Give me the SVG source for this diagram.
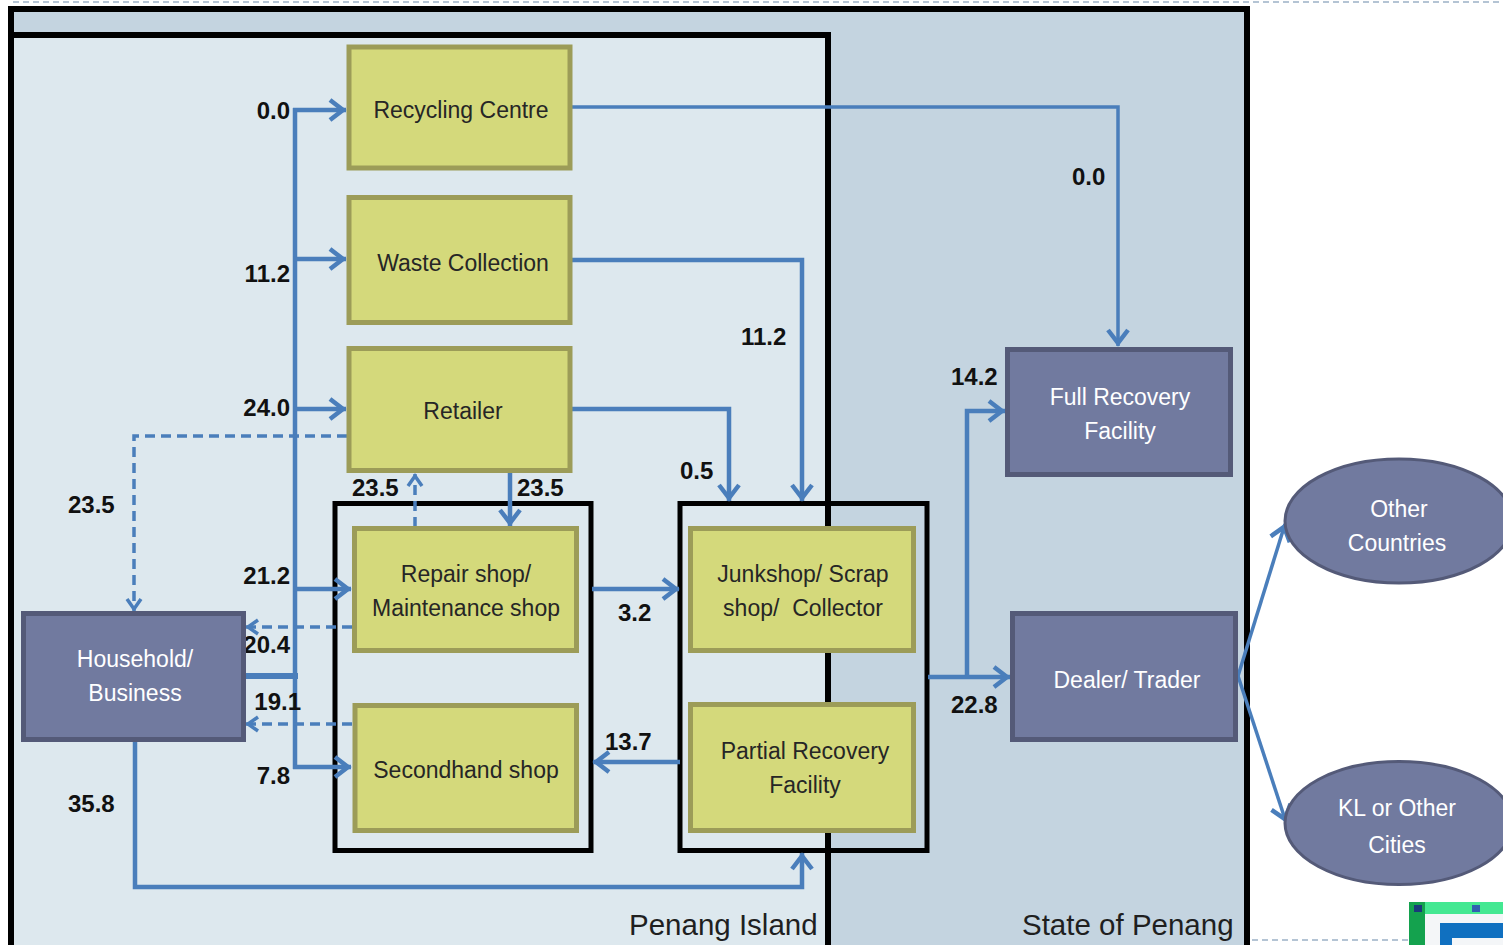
<svg xmlns="http://www.w3.org/2000/svg" width="1503" height="945" viewBox="0 0 1503 945">
<defs>
<style>
.yb{fill:#d4d97b;stroke:#9c9c58;stroke-width:5}
.pb{fill:#717a9f;stroke:#545a78;stroke-width:5}
.pe{fill:#717a9f;stroke:#545a78;stroke-width:3}
.yt{font-family:"Liberation Sans",Arial,sans-serif;font-size:23px;fill:#262626;text-anchor:middle}
.wt{font-family:"Liberation Sans",Arial,sans-serif;font-size:23px;fill:#ffffff;text-anchor:middle}
.num{font-family:"Liberation Sans",Arial,sans-serif;font-size:24px;font-weight:bold;fill:#111111}
.ne{text-anchor:end}
.cn{fill:none;stroke:#4a7ebb;stroke-width:4.5}
.c{fill:none;stroke:#4a7ebb;stroke-width:4.5;marker-end:url(#ah)}
.ct{fill:none;stroke:#4a7ebb;stroke-width:3.5;marker-end:url(#ah)}
.d{fill:none;stroke:#4a7ebb;stroke-width:3.5;stroke-dasharray:10 6;marker-end:url(#ahd)}
.grp{fill:none;stroke:#000000;stroke-width:5}
.reg{font-family:"Liberation Sans",Arial,sans-serif;font-size:29.5px;fill:#1f1f1f}
.pg{fill:none;stroke:#b4c4d4;stroke-width:2;stroke-dasharray:6 4}
</style>
<marker id="ah" markerUnits="userSpaceOnUse" overflow="visible" orient="auto" refX="0" refY="0" markerWidth="1" markerHeight="1">
<path d="M-16,-10 L-3,0 L-16,10" fill="none" stroke="#4a7ebb" stroke-width="4.5" stroke-dasharray="none"/>
</marker>
<marker id="ahd" markerUnits="userSpaceOnUse" overflow="visible" orient="auto" refX="0" refY="0" markerWidth="1" markerHeight="1">
<path d="M-12,-7 L-2,0 L-12,7" fill="none" stroke="#4a7ebb" stroke-width="3.5" stroke-dasharray="none"/>
</marker>
</defs>

<rect x="0" y="0" width="1503" height="945" fill="#ffffff"/>
<line class="pg" x1="13" y1="2" x2="1503" y2="2"/>
<line class="pg" x1="1252" y1="940" x2="1410" y2="940"/>

<g id="state-of-penang">
<rect x="11" y="9" width="1236" height="960" fill="#c4d4e0" stroke="#000000" stroke-width="6"/>
<text class="reg" x="1022" y="935">State of Penang</text>
</g>
<g id="penang-island">
<rect x="11" y="35" width="817" height="930" fill="#dde8ee" stroke="#000000" stroke-width="6"/>
<text class="reg" x="629" y="935">Penang Island</text>
</g>
<g id="group-shops">
<rect class="grp" x="335" y="503.5" width="256" height="347"/>
</g>
<g id="group-collectors">
<rect class="grp" x="680" y="503.5" width="247" height="347"/>
</g>

<g id="connectors">
<path class="cn" d="M244,676 H298" style="stroke-width:6"/>
<path class="cn" d="M295,108 V769"/>
<path class="c" d="M293,110 H346"/>
<path class="c" d="M293,259 H346"/>
<path class="c" d="M293,409 H346"/>
<path class="c" d="M293,589 H351"/>
<path class="c" d="M293,767 H351"/>
<path class="ct" d="M572,107 H1118 V346"/>
<path class="c" d="M572,260 H802 V501"/>
<path class="c" d="M572,409 H729 V501"/>
<path class="c" d="M510,472 V526"/>
<path class="d" d="M415,527 V474"/>
<path class="d" d="M347,436 H134 V611"/>
<path class="d" d="M352,627 H246"/>
<path class="d" d="M352,724 H246"/>
<path class="c" d="M135,741 V887 H802 V853"/>
<path class="c" d="M592,589 H679"/>
<path class="c" d="M680,762 H593"/>
<path class="c" d="M928,677 H1010"/>
<path class="c" d="M967,677 V411 H1005"/>
<path class="ct" d="M1238,676 L1285,524"/>
<path class="ct" d="M1238,676 L1286,822"/>
</g>

<g id="labels">
<text class="num ne" x="290" y="119">0.0</text>
<text class="num ne" x="290" y="282">11.2</text>
<text class="num ne" x="290" y="416">24.0</text>
<text class="num" x="68" y="513">23.5</text>
<text class="num" x="352" y="496">23.5</text>
<text class="num" x="517" y="496">23.5</text>
<text class="num ne" x="290" y="584">21.2</text>
<text class="num ne" x="290" y="653">20.4</text>
<text class="num ne" x="301" y="710">19.1</text>
<text class="num ne" x="290" y="784">7.8</text>
<text class="num" x="68" y="812">35.8</text>
<text class="num" x="1072" y="185">0.0</text>
<text class="num" x="741" y="345">11.2</text>
<text class="num" x="680" y="479">0.5</text>
<text class="num" x="618" y="621">3.2</text>
<text class="num" x="605" y="750">13.7</text>
<text class="num" x="951" y="385">14.2</text>
<text class="num" x="951" y="713">22.8</text>
</g>

<g id="recycling-centre">
<rect class="yb" x="349" y="47" width="221" height="121"/>
<text class="yt" x="461" y="118">Recycling Centre</text>
</g>
<g id="waste-collection">
<rect class="yb" x="349" y="197.5" width="221" height="125"/>
<text class="yt" x="463" y="271">Waste Collection</text>
</g>
<g id="retailer">
<rect class="yb" x="349" y="348.5" width="221" height="122"/>
<text class="yt" x="463" y="419">Retailer</text>
</g>
<g id="repair-shop">
<rect class="yb" x="354.5" y="528.5" width="222" height="122"/>
<text class="yt" x="466" y="582">Repair shop/</text>
<text class="yt" x="466" y="616">Maintenance shop</text>
</g>
<g id="secondhand-shop">
<rect class="yb" x="355" y="705.5" width="221.5" height="125"/>
<text class="yt" x="466" y="778">Secondhand shop</text>
</g>
<g id="junkshop">
<rect class="yb" x="690.5" y="528.5" width="223" height="122"/>
<text class="yt" x="803" y="582">Junkshop/ Scrap</text>
<text class="yt" x="803" y="616">shop/&#160; Collector</text>
</g>
<g id="partial-recovery">
<rect class="yb" x="690.5" y="704.5" width="223" height="126"/>
<text class="yt" x="805" y="759">Partial Recovery</text>
<text class="yt" x="805" y="793">Facility</text>
</g>
<g id="household">
<rect class="pb" x="23.5" y="613.5" width="220" height="126"/>
<text class="wt" x="135" y="667">Household/</text>
<text class="wt" x="135" y="701">Business</text>
</g>
<g id="full-recovery">
<rect class="pb" x="1007.5" y="349.5" width="223" height="125"/>
<text class="wt" x="1120" y="405">Full Recovery</text>
<text class="wt" x="1120" y="439">Facility</text>
</g>
<g id="dealer-trader">
<rect class="pb" x="1012.5" y="613.5" width="223" height="126"/>
<text class="wt" x="1127" y="688">Dealer/ Trader</text>
</g>
<g id="other-countries">
<ellipse class="pe" cx="1399" cy="521" rx="114" ry="62"/>
<text class="wt" x="1399" y="517">Other</text>
<text class="wt" x="1397" y="551">Countries</text>
</g>
<g id="kl-other-cities">
<ellipse class="pe" cx="1399" cy="823" rx="114" ry="61.5"/>
<text class="wt" x="1397" y="816">KL or Other</text>
<text class="wt" x="1397" y="853">Cities</text>
</g>

<g id="corner-icon">
<rect x="1409" y="902" width="94" height="43" fill="#f4f6f8"/>
<rect x="1409" y="902" width="94" height="12" fill="#44e892"/>
<rect x="1409" y="902" width="16" height="43" fill="#14a24e"/>
<rect x="1440" y="923" width="63" height="22" fill="#1070c0"/>
<rect x="1452" y="938" width="51" height="7" fill="#f4f6f8"/>
<rect x="1414" y="905" width="8" height="7" fill="#1a3a7a"/>
<rect x="1472" y="905" width="8" height="7" fill="#3060b0"/>
</g>
</svg>
